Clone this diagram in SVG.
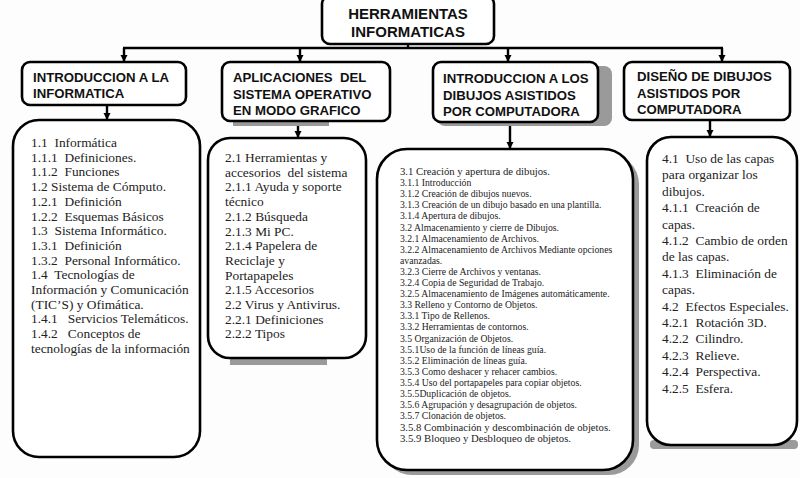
<svg xmlns="http://www.w3.org/2000/svg" width="800" height="478" viewBox="0 0 800 478">
<defs>
<marker id="ah" viewBox="0 0 10 10" refX="10" refY="5" markerWidth="3" markerHeight="3" orient="auto" markerUnits="strokeWidth">
<path d="M0,0 L10,5 L0,10 z" fill="#000"/>
</marker>
<style>
.hb{fill:#fff;stroke:#000;stroke-width:2.6}
.cb{fill:#fff;stroke:#000;stroke-width:2.6}
.sh{fill:#9a9a9a}
.ht{font-family:"Liberation Sans",Arial,sans-serif;font-weight:bold;font-size:13.2px;fill:#111;white-space:pre}
.tt{font-family:"Liberation Sans",Arial,sans-serif;font-weight:bold;font-size:15px;fill:#111}
.ct{font-family:"Liberation Serif","Times New Roman",serif;font-size:13.4px;fill:#222;white-space:pre}
.st{font-family:"Liberation Serif","Times New Roman",serif;font-size:9.7px;fill:#222;white-space:pre}
.sl{font-family:"Liberation Serif","Times New Roman",serif;font-size:10.7px;fill:#222;white-space:pre}
.ln{fill:none;stroke:#000;stroke-width:2.4}
</style>
</defs>
<rect width="800" height="478" fill="#fdfdfd"/>

<g id="connectors">
<line class="ln" x1="408" y1="44" x2="408" y2="48"/>
<line class="ln" x1="123" y1="48" x2="723" y2="48"/>
<line class="ln" x1="124" y1="48" x2="124" y2="62" marker-end="url(#ah)"/>
<line class="ln" x1="300" y1="48" x2="300" y2="62" marker-end="url(#ah)"/>
<line class="ln" x1="508" y1="48" x2="508" y2="62" marker-end="url(#ah)"/>
<line class="ln" x1="722" y1="48" x2="722" y2="62" marker-end="url(#ah)"/>
<line class="ln" x1="107" y1="105" x2="107" y2="120" marker-end="url(#ah)"/>
<line class="ln" x1="298" y1="122" x2="298" y2="138" marker-end="url(#ah)"/>
<line class="ln" x1="510" y1="125" x2="510" y2="149" marker-end="url(#ah)"/>
<line class="ln" x1="710" y1="120" x2="710" y2="137" marker-end="url(#ah)"/>
</g>

<g id="title">
<rect class="hb" x="322" y="-4" width="172" height="48" rx="8"/>
<text class="tt" x="408" y="19" text-anchor="middle">HERRAMIENTAS</text>
<text class="tt" x="408" y="37" text-anchor="middle">INFORMATICAS</text>
</g>

<g id="h1">
<rect class="hb" x="22" y="62" width="164" height="43" rx="8"/>
<text class="ht" x="33" y="82">INTRODUCCION A LA</text>
<text class="ht" x="33" y="98">INFORMATICA</text>
</g>

<g id="h2">
<rect class="sh" x="233" y="118" width="96" height="8"/>
<rect class="hb" x="222" y="62" width="168" height="59" rx="8"/>
<text class="ht" x="233" y="82">APLICACIONES  DEL</text>
<text class="ht" x="233" y="99">SISTEMA OPERATIVO</text>
<text class="ht" x="233" y="115">EN MODO GRAFICO</text>
</g>

<g id="h3">
<rect class="sh" x="437" y="66" width="175" height="60" rx="8"/>
<rect class="hb" x="433" y="62" width="165" height="60" rx="8"/>
<text class="ht" x="443" y="83">INTRODUCCION A LOS</text>
<text class="ht" x="443" y="100">DIBUJOS ASISTIDOS</text>
<text class="ht" x="443" y="116">POR COMPUTADORA</text>
</g>

<g id="h4">
<rect class="hb" x="624" y="62" width="166" height="58" rx="8"/>
<text class="ht" x="637" y="81">DISEÑO DE DIBUJOS</text>
<text class="ht" x="637" y="98">ASISTIDOS POR</text>
<text class="ht" x="637" y="114">COMPUTADORA</text>
</g>

<g id="c1">
<rect class="cb" x="13" y="120" width="187" height="337" rx="26"/>
<text class="ct" x="31" y="147">1.1  Informática</text>
<text class="ct" x="31" y="161.7">1.1.1  Definiciones.</text>
<text class="ct" x="31" y="176.4">1.1.2  Funciones</text>
<text class="ct" x="31" y="191.1">1.2 Sistema de Cómputo.</text>
<text class="ct" x="31" y="205.8">1.2.1  Definición</text>
<text class="ct" x="31" y="220.5">1.2.2  Esquemas Básicos</text>
<text class="ct" x="31" y="235.2">1.3  Sistema Informático.</text>
<text class="ct" x="31" y="249.9">1.3.1  Definición</text>
<text class="ct" x="31" y="264.6">1.3.2  Personal Informático.</text>
<text class="ct" x="31" y="279.3">1.4  Tecnologías de</text>
<text class="ct" x="31" y="294">Información y Comunicación</text>
<text class="ct" x="31" y="308.7">(TIC’S) y Ofimática.</text>
<text class="ct" x="31" y="323.4">1.4.1   Servicios Telemáticos.</text>
<text class="ct" x="31" y="338.1">1.4.2   Conceptos de</text>
<text class="ct" x="31" y="352.8">tecnologías de la información</text>
</g>

<g id="c2">
<rect class="sh" x="230" y="356" width="97" height="9"/>
<rect class="cb" x="208" y="138" width="158" height="220" rx="22"/>
<text class="ct" x="225" y="162">2.1 Herramientas y</text>
<text class="ct" x="225" y="176.7">accesorios  del sistema</text>
<text class="ct" x="225" y="191.4">2.1.1 Ayuda y soporte</text>
<text class="ct" x="225" y="206.1">técnico</text>
<text class="ct" x="225" y="220.8">2.1.2 Búsqueda</text>
<text class="ct" x="225" y="235.5">2.1.3 Mi PC.</text>
<text class="ct" x="225" y="250.2">2.1.4 Papelera de</text>
<text class="ct" x="225" y="264.9">Reciclaje y</text>
<text class="ct" x="225" y="279.6">Portapapeles</text>
<text class="ct" x="225" y="294.3">2.1.5 Accesorios</text>
<text class="ct" x="225" y="309">2.2 Virus y Antivirus.</text>
<text class="ct" x="225" y="323.7">2.2.1 Definiciones</text>
<text class="ct" x="225" y="338.4">2.2.2 Tipos</text>
</g>

<g id="c3">
<rect class="sh" x="382" y="154" width="257" height="321" rx="30"/>
<rect class="cb" x="377" y="149" width="256" height="321" rx="30"/>
<text class="sl" x="400" y="175">3.1 Creación y apertura de dibujos.</text>
<text class="st" x="400" y="186.1">3.1.1 Introducción</text>
<text class="st" x="400" y="197.2">3.1.2 Creación de dibujos nuevos.</text>
<text class="st" x="400" y="208.3">3.1.3 Creación de un dibujo basado en una plantilla.</text>
<text class="st" x="400" y="219.4">3.1.4 Apertura de dibujos.</text>
<text class="st" x="400" y="230.5">3.2 Almacenamiento y cierre de Dibujos.</text>
<text class="st" x="400" y="241.6">3.2.1 Almacenamiento de Archivos.</text>
<text class="st" x="400" y="252.7">3.2.2 Almacenamiento de Archivos Mediante opciones</text>
<text class="st" x="400" y="263.8">avanzadas.</text>
<text class="st" x="400" y="274.9">3.2.3 Cierre de Archivos y ventanas.</text>
<text class="st" x="400" y="286">3.2.4 Copia de Seguridad de Trabajo.</text>
<text class="st" x="400" y="297.1">3.2.5 Almacenamiento de Imágenes automáticamente.</text>
<text class="st" x="400" y="308.2">3.3 Relleno y Contorno de Objetos.</text>
<text class="st" x="400" y="319.3">3.3.1 Tipo de Rellenos.</text>
<text class="st" x="400" y="330.4">3.3.2 Herramientas de contornos.</text>
<text class="st" x="400" y="341.5">3.5 Organización de Objetos.</text>
<text class="st" x="400" y="352.6">3.5.1Uso de la función de líneas guía.</text>
<text class="st" x="400" y="363.7">3.5.2 Eliminación de líneas guía.</text>
<text class="st" x="400" y="374.8">3.5.3 Como deshacer y rehacer cambios.</text>
<text class="st" x="400" y="385.9">3.5.4 Uso del portapapeles para copiar objetos.</text>
<text class="st" x="400" y="397">3.5.5Duplicación de objetos.</text>
<text class="st" x="400" y="408.1">3.5.6 Agrupación y desagrupación de objetos.</text>
<text class="st" x="400" y="419.2">3.5.7 Clonación de objetos.</text>
<text class="sl" x="400" y="430.6">3.5.8 Combinación y descombinación de objetos.</text>
<text class="sl" x="400" y="442.2">3.5.9 Bloqueo y Desbloqueo de objetos.</text>
</g>

<g id="c4">
<rect class="sh" x="650" y="440" width="148" height="9" rx="4"/>
<rect class="cb" x="647" y="137" width="150" height="308" rx="24"/>
<text class="ct" x="662" y="163">4.1  Uso de las capas</text>
<text class="ct" x="662" y="179.4">para organizar los</text>
<text class="ct" x="662" y="195.8">dibujos.</text>
<text class="ct" x="662" y="212.2">4.1.1  Creación de</text>
<text class="ct" x="662" y="228.6">capas.</text>
<text class="ct" x="662" y="245">4.1.2  Cambio de orden</text>
<text class="ct" x="662" y="261.4">de las capas.</text>
<text class="ct" x="662" y="277.8">4.1.3  Eliminación de</text>
<text class="ct" x="662" y="294.2">capas.</text>
<text class="ct" x="662" y="310.6">4.2  Efectos Especiales.</text>
<text class="ct" x="662" y="327">4.2.1  Rotación 3D.</text>
<text class="ct" x="662" y="343.4">4.2.2  Cilindro.</text>
<text class="ct" x="662" y="359.8">4.2.3  Relieve.</text>
<text class="ct" x="662" y="376.2">4.2.4  Perspectiva.</text>
<text class="ct" x="662" y="392.6">4.2.5  Esfera.</text>
</g>
</svg>
